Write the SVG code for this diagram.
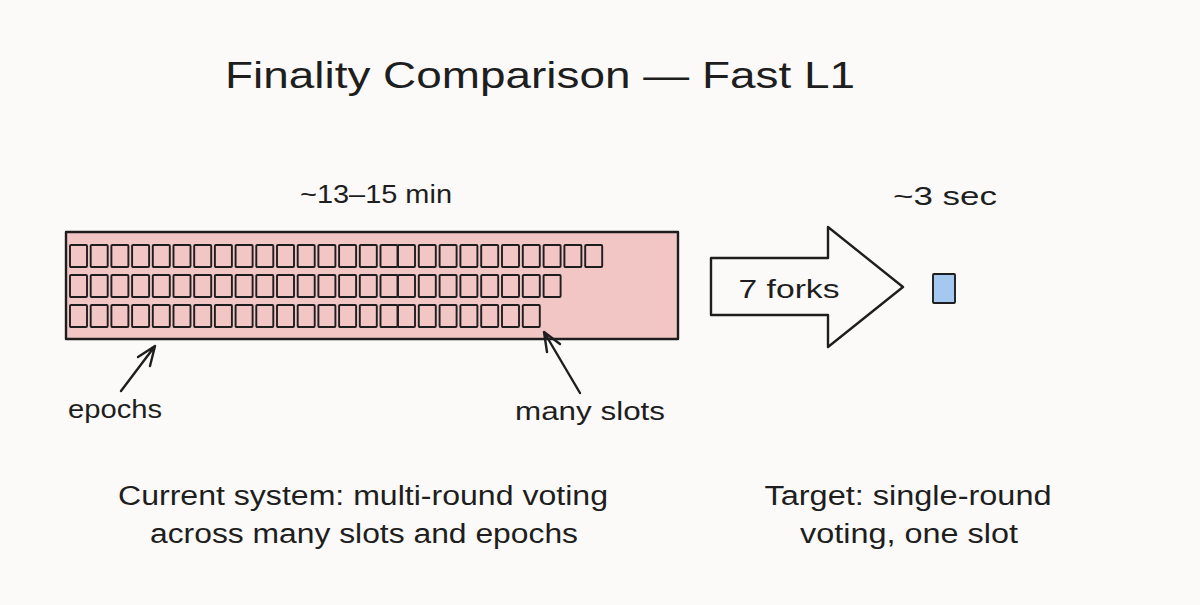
<svg xmlns="http://www.w3.org/2000/svg" xmlns:xlink="http://www.w3.org/1999/xlink" width="1200" height="605" viewBox="0 0 1200 605">
  <style>
    text { font-family: "Liberation Sans", "DejaVu Sans", sans-serif; fill: #1e1e1e; text-anchor: middle; }
    .title { font-size: 36px; }
    .lbl { font-size: 25px; }
    .cap { font-size: 27px; }
    .sq { fill: none; stroke: #1e1e1e; stroke-width: 1.9; }
    .ink { stroke: #1e1e1e; stroke-width: 2.4; stroke-linecap: round; stroke-linejoin: round; }
  </style>
  <defs>
    <rect id="sq" class="sq" x="0" y="0" width="17" height="22" rx="1"/>
    <g id="g1">
      <use href="#sq" x="70"/><use href="#sq" x="90.7"/><use href="#sq" x="111.4"/><use href="#sq" x="132.1"/>
      <use href="#sq" x="152.8"/><use href="#sq" x="173.5"/><use href="#sq" x="194.2"/><use href="#sq" x="214.9"/>
      <use href="#sq" x="235.6"/><use href="#sq" x="256.3"/><use href="#sq" x="277"/><use href="#sq" x="297.7"/>
      <use href="#sq" x="318.4"/><use href="#sq" x="339.1"/><use href="#sq" x="359.8"/><use href="#sq" x="380.5"/>
    </g>
  </defs>
  <rect x="0" y="0" width="1200" height="605" fill="#fbfaf8"/>

  <g id="title">
    <text class="title" x="540" y="88" textLength="630" lengthAdjust="spacingAndGlyphs">Finality Comparison — Fast L1</text>
  </g>

  <g id="current-label">
    <text class="lbl" x="376" y="203" textLength="152" lengthAdjust="spacingAndGlyphs">~13–15 min</text>
  </g>
  <g id="target-label">
    <text class="lbl" x="945" y="205" textLength="104" lengthAdjust="spacingAndGlyphs">~3 sec</text>
  </g>

  <g id="slots-block">
    <rect x="66" y="232" width="612" height="107" fill="#f2c6c5" class="ink"/>
    <g transform="translate(0,245)">
      <use href="#g1"/>
      <use href="#sq" x="398"/><use href="#sq" x="418.8"/><use href="#sq" x="439.6"/><use href="#sq" x="460.4"/>
      <use href="#sq" x="481.2"/><use href="#sq" x="502"/><use href="#sq" x="522.8"/><use href="#sq" x="543.6"/>
      <use href="#sq" x="564.4"/><use href="#sq" x="585.2"/>
    </g>
    <g transform="translate(0,275)">
      <use href="#g1"/>
      <use href="#sq" x="398"/><use href="#sq" x="418.8"/><use href="#sq" x="439.6"/><use href="#sq" x="460.4"/>
      <use href="#sq" x="481.2"/><use href="#sq" x="502"/><use href="#sq" x="522.8"/><use href="#sq" x="543.6"/>
    </g>
    <g transform="translate(0,305)">
      <use href="#g1"/>
      <use href="#sq" x="398"/><use href="#sq" x="418.8"/><use href="#sq" x="439.6"/><use href="#sq" x="460.4"/>
      <use href="#sq" x="481.2"/><use href="#sq" x="502"/><use href="#sq" x="522.8"/>
    </g>
  </g>

  <g id="forks-arrow">
    <polygon class="ink" fill="#fbfaf8" points="711,258 828,258 828,227 903,287 828,347 828,315 711,315"/>
    <text class="lbl" x="789" y="298" textLength="101" lengthAdjust="spacingAndGlyphs">7 forks</text>
  </g>

  <g id="single-slot">
    <rect x="933" y="274" width="22" height="29" rx="1" fill="#a5c8f0" stroke="#1e1e1e" stroke-width="1.9"/>
  </g>

  <g id="epochs-label">
    <text class="lbl" x="115" y="418" textLength="94" lengthAdjust="spacingAndGlyphs">epochs</text>
  </g>
  <g id="slots-label">
    <text class="lbl" x="590" y="420" textLength="150" lengthAdjust="spacingAndGlyphs">many slots</text>
  </g>

  <g id="connectors" fill="none" class="ink">
    <path class="ink" fill="none" d="M121,391 L155,346 M155,346 L138,357 M155,346 L150,366"/>
    <path class="ink" fill="none" d="M580,393 L544,332 M544,332 L547,352 M544,332 L560,344"/>
  </g>

  <g id="current-caption">
    <text class="cap" x="363" y="505" textLength="490" lengthAdjust="spacingAndGlyphs">Current system: multi-round voting</text>
    <text class="cap" x="364" y="543" textLength="428" lengthAdjust="spacingAndGlyphs">across many slots and epochs</text>
  </g>
  <g id="target-caption">
    <text class="cap" x="908" y="505" textLength="287" lengthAdjust="spacingAndGlyphs">Target: single-round</text>
    <text class="cap" x="909" y="543" textLength="218" lengthAdjust="spacingAndGlyphs">voting, one slot</text>
  </g>
</svg>
